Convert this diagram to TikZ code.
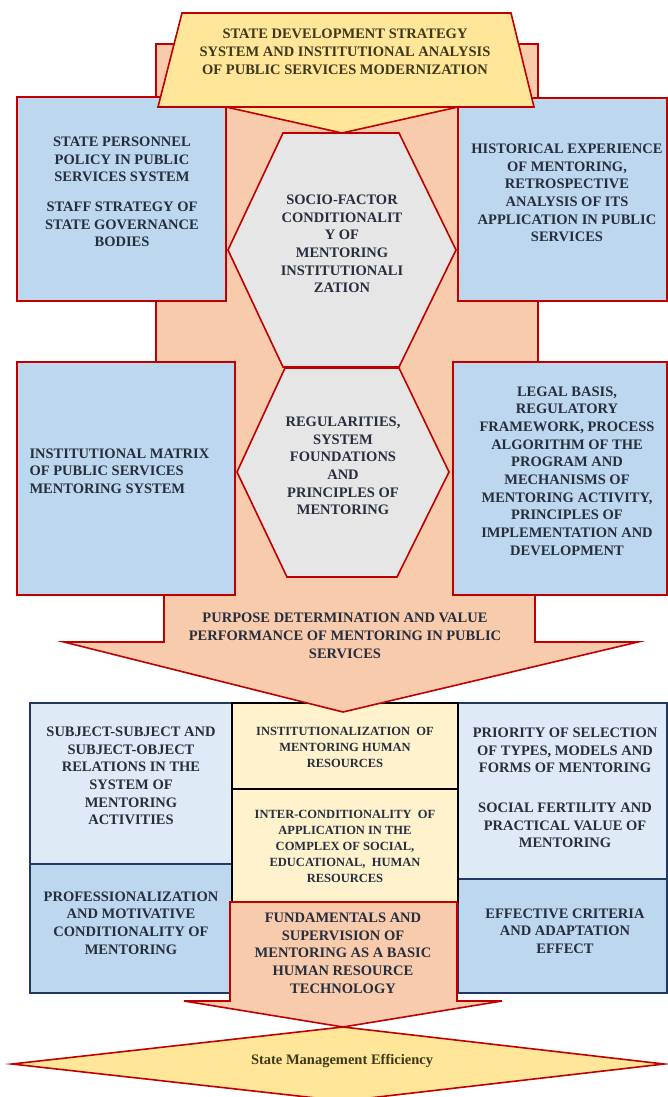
\documentclass[tikz,border=0pt]{standalone}
\usepackage{fontspec}
\setmainfont{Liberation Serif}
\usepackage{tikz}
\definecolor{rojo}{RGB}{192,0,0}
\definecolor{salmon}{RGB}{248,203,173}
\definecolor{amarillo}{RGB}{255,230,153}
\definecolor{crema}{RGB}{255,242,204}
\definecolor{azul}{RGB}{189,215,238}
\definecolor{celeste}{RGB}{222,235,247}
\definecolor{gris}{RGB}{231,230,230}
\definecolor{marino}{RGB}{31,56,100}
\definecolor{tinta}{RGB}{38,46,62}
\definecolor{oliva}{RGB}{62,56,26}
\tikzset{
	x=1pt, y=-1pt, % un pixel por punto, y hacia abajo
	borde/.style={draw=rojo, line width=1.6pt, line join=miter}, % contorno rojo
	caja/.style={borde, fill=azul}, % cajas azules de arriba
	hexa/.style={borde, fill=gris}, % hexagonos centrales
	celda/.style={draw=marino, line width=1.6pt}, % celdas de abajo
	texto/.style={font=\bfseries\fontsize{14.5}{17.7}\selectfont, text=tinta, align=center}, % texto normal
	chico/.style={texto, font=\bfseries\fontsize{12.5}{16}\selectfont} % texto de la columna central
}

\begin{document}
\begin{tikzpicture}
	\useasboundingbox (0,0) rectangle (668,1097);
	% rejilla inferior
	\filldraw[celda, fill=celeste] (30,703) rectangle (232,864);
	\filldraw[celda, fill=azul] (30,864) rectangle (232,993);
	\filldraw[celda, fill=celeste] (458,703) rectangle (667,879);
	\filldraw[celda, fill=azul] (458,879) rectangle (667,993);
	\filldraw[celda, draw=black, fill=crema] (232,703) rectangle (458,789);
	\filldraw[celda, draw=black, fill=crema] (232,789) rectangle (458,902);
	% flecha grande
	\filldraw[borde, fill=salmon] (156,44) -- (538,44) -- (538,480) -- (535,480) -- (535,642) -- (638,642) -- (343,712)
		-- (64,642) -- (164,642) -- (164,480) -- (156,480) -- cycle;
	\filldraw[caja] (17,97) rectangle (226,301);
	\filldraw[caja] (458,98) rectangle (667,301);
	\filldraw[caja] (17,362) rectangle (235,595);
	\filldraw[caja] (453,362) rectangle (667,595);
	\filldraw[hexa] (283,133) -- (399,133) -- (456,250) -- (399,367) -- (283,367) -- (228,250) -- cycle;
	\filldraw[hexa] (285,368) -- (399,368) -- (449,472) -- (397,577) -- (287,577) -- (237,472) -- cycle;
	\filldraw[borde, fill=amarillo] (226,107) -- (342,133) -- (458,107) -- cycle;
	\filldraw[borde, fill=amarillo] (182,13) -- (511,13) -- (534,107) -- (158,107) -- cycle;
	% flecha de abajo
	\filldraw[borde, fill=amarillo] (343,1027) -- (664,1064) -- (343,1101) -- (12,1064) -- cycle;
	\filldraw[borde, fill=salmon] (230,902) -- (457,902) -- (457,1001) -- (502,1001) -- (343,1027)
		-- (184,1001) -- (230,1001) -- cycle;

	\node[texto, text=oliva] (t0) at (345,52) {STATE DEVELOPMENT STRATEGY\\SYSTEM AND INSTITUTIONAL ANALYSIS\\OF PUBLIC SERVICES MODERNIZATION};
	\node[texto] (b1) at (122,192) {STATE PERSONNEL\\POLICY IN PUBLIC\\SERVICES SYSTEM\\[12pt]STAFF STRATEGY OF\\STATE GOVERNANCE\\BODIES};
	\node[texto] (b2) at (567,193) {HISTORICAL EXPERIENCE\\OF MENTORING,\\RETROSPECTIVE\\ANALYSIS OF ITS\\APPLICATION IN PUBLIC\\SERVICES};
	\node[texto] (h1) at (342,244) {SOCIO-FACTOR\\CONDITIONALIT\\Y OF\\MENTORING\\INSTITUTIONALI\\ZATION};
	\node[texto] (h2) at (343,466) {REGULARITIES,\\SYSTEM\\FOUNDATIONS\\AND\\PRINCIPLES OF\\MENTORING};
	\node[texto, align=left, anchor=west] (b3) at (26,471) {INSTITUTIONAL MATRIX\\OF PUBLIC SERVICES\\MENTORING SYSTEM};
	\node[texto] (b4) at (567,471) {LEGAL BASIS,\\REGULATORY\\FRAMEWORK, PROCESS\\ALGORITHM OF THE\\PROGRAM AND\\MECHANISMS OF\\MENTORING ACTIVITY,\\PRINCIPLES OF\\IMPLEMENTATION AND\\DEVELOPMENT};
	\node[texto] (a1) at (345,636) {PURPOSE DETERMINATION AND VALUE\\PERFORMANCE OF MENTORING IN PUBLIC\\SERVICES};
	\node[texto] (g1) at (131,776) {SUBJECT-SUBJECT AND\\SUBJECT-OBJECT\\RELATIONS IN THE\\SYSTEM OF\\MENTORING\\ACTIVITIES};
	\node[texto] (g2) at (131,923) {PROFESSIONALIZATION\\AND MOTIVATIVE\\CONDITIONALITY OF\\MENTORING};
	\node[chico] (g3) at (345,747) {INSTITUTIONALIZATION\ \ OF\\MENTORING HUMAN\\RESOURCES};
	\node[chico] (g4) at (345,846) {INTER-CONDITIONALITY\ \ OF\\APPLICATION IN THE\\COMPLEX OF SOCIAL,\\EDUCATIONAL,\ \ HUMAN\\RESOURCES};
	\node[texto] (g5) at (343,953) {FUNDAMENTALS AND\\SUPERVISION OF\\MENTORING AS A BASIC\\HUMAN RESOURCE\\TECHNOLOGY};
	\node[texto] (g6) at (565,788) {PRIORITY OF SELECTION\\OF TYPES, MODELS AND\\FORMS OF MENTORING\\[22pt]SOCIAL FERTILITY AND\\PRACTICAL VALUE OF\\MENTORING};
	\node[texto] (g7) at (565,931) {EFFECTIVE CRITERIA\\AND ADAPTATION\\EFFECT};
	\node[texto, text=oliva] (d1) at (342,1061) {State Management Efficiency};
\end{tikzpicture}
\end{document}
